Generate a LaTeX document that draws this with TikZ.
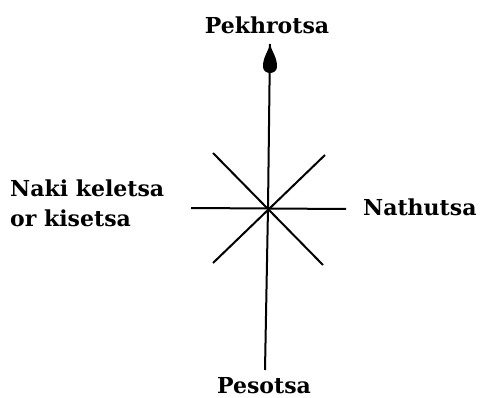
\documentclass[tikz,border=0pt]{standalone}
\usepackage{fontspec}
\newfontfamily\lblfamily{DejaVu Serif}
\begin{document}
\begin{tikzpicture}[x=1pt,y=-1pt,
  ray/.style={line width=2pt},
  tear/.style={fill=black},
  lbl/.style={font=\lblfamily\bfseries\fontsize{22}{30}\selectfont, inner sep=0pt}]
\useasboundingbox (0,0) rectangle (482,398);
\coordinate (c) at (268,208);
\coordinate (n) at (270,44);
\coordinate (s) at (265,370);
\coordinate (w) at (191,208);
\coordinate (e) at (346,209);
\coordinate (nw) at (213,153);
\coordinate (se) at (323,265);
\coordinate (ne) at (325,155);
\coordinate (sw) at (213,263);
\draw[ray] (c) -- (n);
\fill[tear, shift={(n)}] (0,0) .. controls (1.5,7) and (7.5,14) .. (7,23)
   .. controls (6.5,31) and (-6.5,31) .. (-7,23)
   .. controls (-7.5,14) and (-1.5,7) .. (0,0) -- cycle;
\draw[ray] (c) -- (s);
\draw[ray] (w) -- (e);
\draw[ray] (nw) -- (se);
\draw[ray] (ne) -- (sw);
\node[lbl] (pk) at (267,25) {Pekhrotsa};
\node[lbl] (ps) at (264,386) {Pesotsa};
\node[lbl, anchor=west] (nt) at (363,207) {Nathutsa};
\node[lbl, anchor=west, align=left] (nk) at (10,203) {Naki keletsa\\or kisetsa};
\end{tikzpicture}
\end{document}
